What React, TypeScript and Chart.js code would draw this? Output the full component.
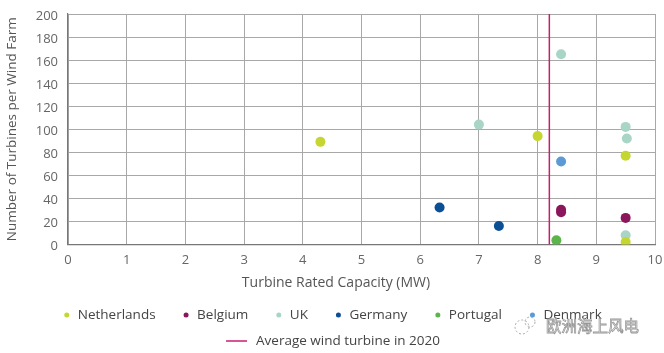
import React, { useEffect, useRef } from "react";
import { Chart, registerables } from "chart.js";

Chart.register(...registerables);

type Pt = { x: number; y: number };

const netherlands: Pt[] = [
  { x: 4.3, y: 89 },
  { x: 8.0, y: 94 },
  { x: 9.5, y: 77 },
  { x: 9.5, y: 2 },
];
const belgium: Pt[] = [
  { x: 8.4, y: 30 },
  { x: 8.4, y: 28 },
  { x: 9.5, y: 23 },
];
const uk: Pt[] = [
  { x: 7.0, y: 104 },
  { x: 8.4, y: 165 },
  { x: 9.5, y: 102 },
  { x: 9.52, y: 92 },
  { x: 9.5, y: 8 },
];
const germany: Pt[] = [
  { x: 6.33, y: 32 },
  { x: 7.34, y: 16 },
];
const portugal: Pt[] = [{ x: 8.32, y: 3.5 }];
const denmark: Pt[] = [{ x: 8.4, y: 72 }];
const averageCapacity2020 = 8.2;
const yRange = [0, 200];
const xRange = [0, 10];

const seriesLabels = ["Netherlands", "Belgium", "UK", "Germany", "Portugal", "Denmark"];
const seriesColors = ["#c6d631", "#8b165b", "#a9d5c7", "#0b4f95", "#5db44a", "#5b9ad4"];
const averageLabel = "Average wind turbine in 2020";
const averageColor = "#c81d6f";
const xTitle = "Turbine Rated Capacity (MW)";
const yTitle = "Number of Turbines per Wind Farm";
const watermark = "欧洲海上风电";

const FONT = "'Open Sans', Lato, sans-serif";
const TEXT = "#555";

const legendPlugin = {
  id: "customLegend",
  afterDraw(chart: any) {
    const ctx: CanvasRenderingContext2D = chart.ctx;
    ctx.save();
    const centerX = 333;
    // x axis title
    ctx.font = `14px ${FONT}`;
    ctx.textBaseline = "middle";
    ctx.textAlign = "center";
    ctx.fillStyle = TEXT;
    ctx.fillText(xTitle, 336, 283);

    ctx.font = `13.5px ${FONT}`;
    ctx.textAlign = "left";
    const scatter = chart.data.datasets.filter((d: any) => d.type !== "line");
    const dot = 5;
    const gap = 8.5;
    const itemGap = 28;
    const widths = scatter.map((d: any) => dot + gap + ctx.measureText(d.label).width);
    const total = widths.reduce((a: number, b: number) => a + b, 0) + itemGap * (scatter.length - 1);
    let x = centerX - total / 2;
    const y1 = 315;
    scatter.forEach((d: any, i: number) => {
      ctx.fillStyle = d.backgroundColor;
      ctx.beginPath();
      ctx.arc(x + dot / 2, y1, dot / 2, 0, Math.PI * 2);
      ctx.fill();
      ctx.fillStyle = "#444";
      ctx.fillText(d.label, x + dot + gap, y1);
      x += widths[i] + itemGap;
    });
    const lines = chart.data.datasets.filter((d: any) => d.type === "line");
    const y2 = 341;
    lines.forEach((d: any) => {
      const lineLen = 21;
      const w = lineLen + 9 + ctx.measureText(d.label).width;
      const lx = centerX - w / 2;
      ctx.strokeStyle = d.borderColor;
      ctx.lineWidth = 1.5;
      ctx.beginPath();
      ctx.moveTo(lx, y2);
      ctx.lineTo(lx + lineLen, y2);
      ctx.stroke();
      ctx.fillStyle = "#444";
      ctx.fillText(d.label, lx + lineLen + 9, y2);
    });
    // watermark
    ctx.setLineDash([2, 2]);
    ctx.strokeStyle = "#aaa";
    ctx.lineWidth = 1;
    ctx.beginPath();
    ctx.arc(522, 327, 7, 0, Math.PI * 2);
    ctx.stroke();
    ctx.beginPath();
    ctx.arc(530, 322, 5, 0, Math.PI * 2);
    ctx.stroke();
    ctx.setLineDash([]);
    ctx.font = `15.5px 'Noto Sans CJK SC'`;
    ctx.fillStyle = "rgba(255,255,255,0.85)";
    ctx.fillText(watermark, 546, 326);
    ctx.strokeStyle = "#999";
    ctx.lineWidth = 0.8;
    ctx.strokeText(watermark, 546, 326);
    ctx.restore();
  },
};

export default function App() {
  const ref = useRef<HTMLCanvasElement>(null);
  useEffect(() => {
    if (!ref.current) return;
    const all = [netherlands, belgium, uk, germany, portugal, denmark];
    const datasets: any[] = all.map((data, i) => ({
      type: "scatter",
      label: seriesLabels[i],
      data,
      backgroundColor: seriesColors[i],
      borderColor: seriesColors[i],
      borderWidth: 0,
      pointRadius: 5,
      pointHoverRadius: 5,
    }));
    datasets.push({
      type: "line",
      label: averageLabel,
      data: [
        { x: averageCapacity2020, y: yRange[0] },
        { x: averageCapacity2020, y: yRange[1] },
      ],
      borderColor: averageColor,
      backgroundColor: averageColor,
      borderWidth: 1.5,
      pointRadius: 0,
      showLine: true,
    });
    const chart = new Chart(ref.current, {
      type: "scatter",
      data: { datasets },
      plugins: [legendPlugin],
      options: {
        responsive: false,
        animation: false,
        layout: { padding: { left: 0, top: 14, right: 9, bottom: 77 } },
        plugins: { legend: { display: false }, tooltip: { enabled: false } },
        scales: {
          x: {
            type: "linear",
            min: xRange[0],
            max: xRange[1],
            ticks: { stepSize: 1, color: "#666", font: { family: FONT, size: 13 }, padding: 8 },
            grid: { color: "#a8a8a8", lineWidth: 1, drawTicks: false },
            border: { color: "#777", width: 1.2 },
            title: { display: false },
            afterFit: (s: any) => {
              s.paddingLeft = 0;
              s.paddingRight = 0;
            },
          },
          y: {
            type: "linear",
            min: yRange[0],
            max: yRange[1],
            ticks: {
              stepSize: 20,
              color: "#666",
              font: { family: FONT, size: 13 },
              padding: 10,
              labelOffset: 2,
            },
            grid: { color: "#a8a8a8", lineWidth: 1, drawTicks: false },
            border: { color: "#777", width: 1.2 },
            title: {
              display: true,
              text: yTitle,
              color: TEXT,
              font: { family: FONT, size: 13.5 },
              padding: { top: 4, bottom: 4 },
            },
            afterFit: (s: any) => {
              s.width = 68;
              s.paddingTop = 0;
              s.paddingBottom = 0;
            },
          },
        },
      },
    });
    return () => chart.destroy();
  }, []);
  return (
    <div style={{ position: "absolute", left: 0, top: 0, width: 664, height: 353, background: "#fff" }}>
      <canvas ref={ref} width={664} height={353} style={{ width: 664, height: 353 }} />
    </div>
  );
}
